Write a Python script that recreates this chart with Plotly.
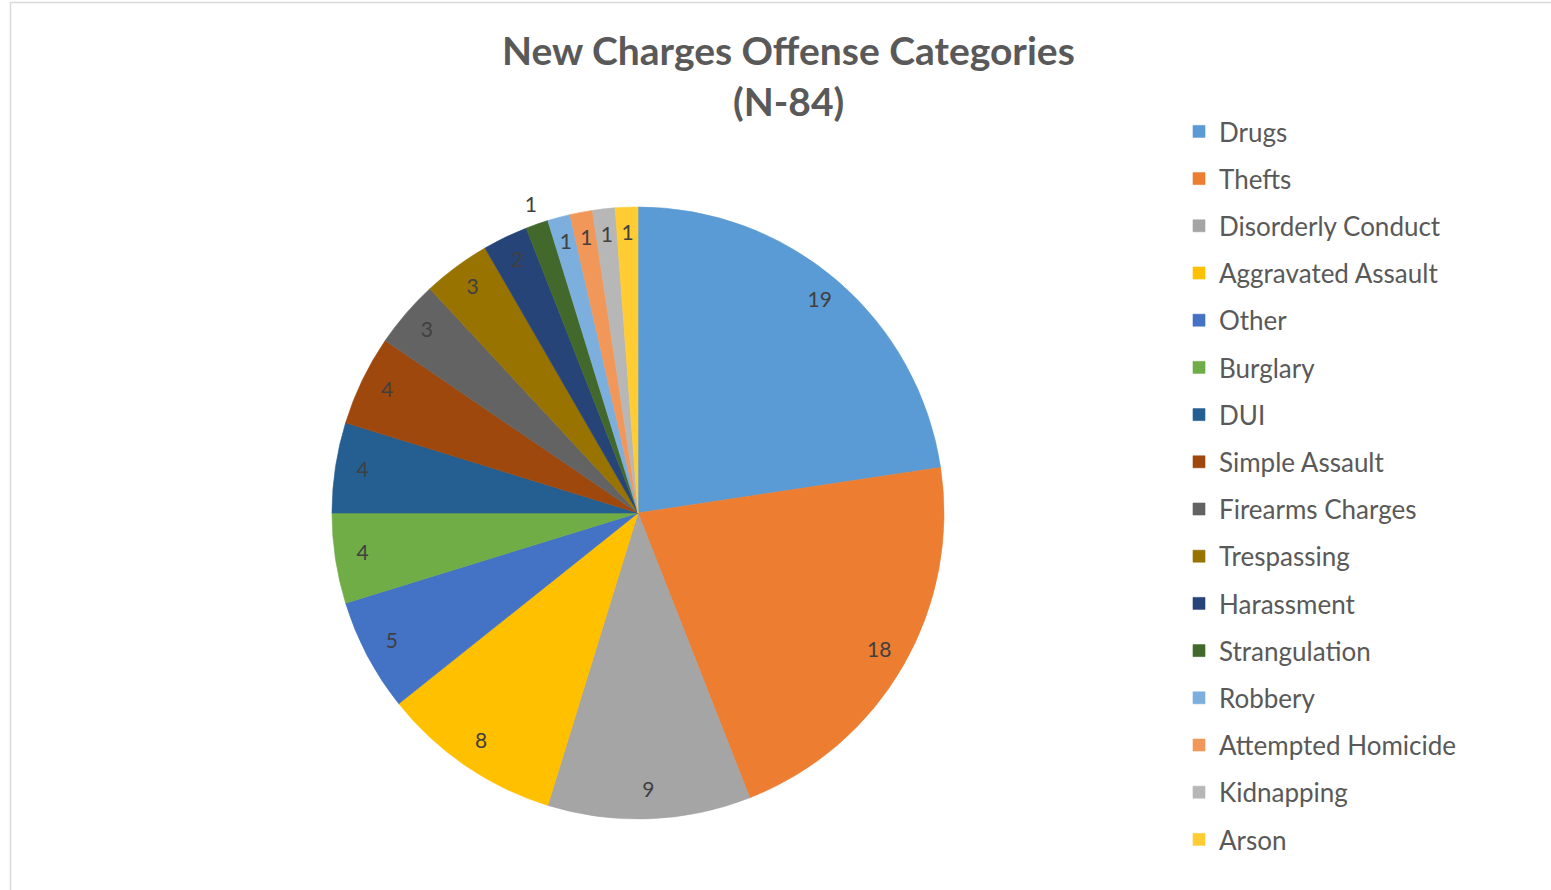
import plotly.graph_objects as go

categories = ["Drugs", "Thefts", "Disorderly Conduct", "Aggravated Assault", "Other",
              "Burglary", "DUI", "Simple Assault", "Firearms Charges", "Trespassing",
              "Harassment", "Strangulation", "Robbery", "Attempted Homicide",
              "Kidnapping", "Arson"]
counts = [19, 18, 9, 8, 5, 4, 4, 4, 3, 3, 2, 1, 1, 1, 1, 1]
colors = ["#5B9BD5", "#ED7D31", "#A5A5A5", "#FFC000", "#4472C4", "#70AD47",
          "#255E91", "#9E480E", "#636363", "#997300", "#264478", "#43682B",
          "#7CAFDD", "#F1975A", "#B7B7B7", "#FFCD33"]
title_lines = ["New Charges Offense Categories", "(N-84)"]

FONT = "Lato"
W, H = 1551, 890
total = sum(counts)

fig = go.Figure()
cum = 0.0
mids, spans = [], []
for c in counts:
    span = c / total * 360.0
    mids.append(cum + span / 2)
    spans.append(span)
    cum += span

for name, c, col, mid, span in zip(categories, counts, colors, mids, spans):
    fig.add_trace(go.Barpolar(
        r=[1], theta=[mid], width=[span], name=name, legendgroup=name,
        marker=dict(color=col, line=dict(width=0.6, color=col)),
        hoverinfo="name+text", text=[str(c)],
    ))

# data labels, placed through the polar axis
label_r = [1.06 if n == "Strangulation" else 0.91 for n in categories]
fig.add_trace(go.Scatterpolar(
    r=label_r, theta=mids, mode="text", text=[str(c) for c in counts],
    textfont=dict(family=FONT, size=21, color="#404040"),
    showlegend=False, cliponaxis=False, hoverinfo="skip",
))

RMAX = 1.1
R = 306 * RMAX
CX, CY = 638, 513
fig.update_layout(
    width=W, height=H,
    margin=dict(l=0, r=0, t=0, b=0),
    paper_bgcolor="white",
    font=dict(family=FONT, color="#595959"),
    polar=dict(
        domain=dict(x=[(CX - R) / W, (CX + R) / W], y=[(H - CY - R) / H, (H - CY + R) / H]),
        bgcolor="rgba(0,0,0,0)",
        bargap=0,
        angularaxis=dict(rotation=90, direction="clockwise", visible=False,
                         showgrid=False, showline=False, showticklabels=False),
        radialaxis=dict(range=[0, RMAX], visible=False, showgrid=False,
                        showline=False, showticklabels=False),
    ),
    legend=dict(
        x=1179 / W, y=1 - 108 / H, xanchor="left", yanchor="top",
        font=dict(family=FONT, size=26, color="#595959"),
        tracegroupgap=10.4, traceorder="grouped",
        bgcolor="rgba(0,0,0,0)",
    ),
    annotations=[
        dict(text="<b>%s</b>" % title_lines[0], x=788 / W, y=1 - 50 / H,
             xref="paper", yref="paper", showarrow=False, xanchor="center",
             yanchor="middle", font=dict(family=FONT, size=39, color="#595959")),
        dict(text="<b>%s</b>" % title_lines[1], x=788 / W, y=1 - 101 / H,
             xref="paper", yref="paper", showarrow=False, xanchor="center",
             yanchor="middle", font=dict(family=FONT, size=39, color="#595959")),
    ],
    shapes=[dict(type="rect", xref="paper", yref="paper",
                 x0=10.5 / W, x1=1.02, y0=-0.02, y1=1 - 2.5 / H,
                 line=dict(color="#D9D9D9", width=1.5), fillcolor="rgba(0,0,0,0)",
                 layer="below")],
)

fig.write_html("out.html")
